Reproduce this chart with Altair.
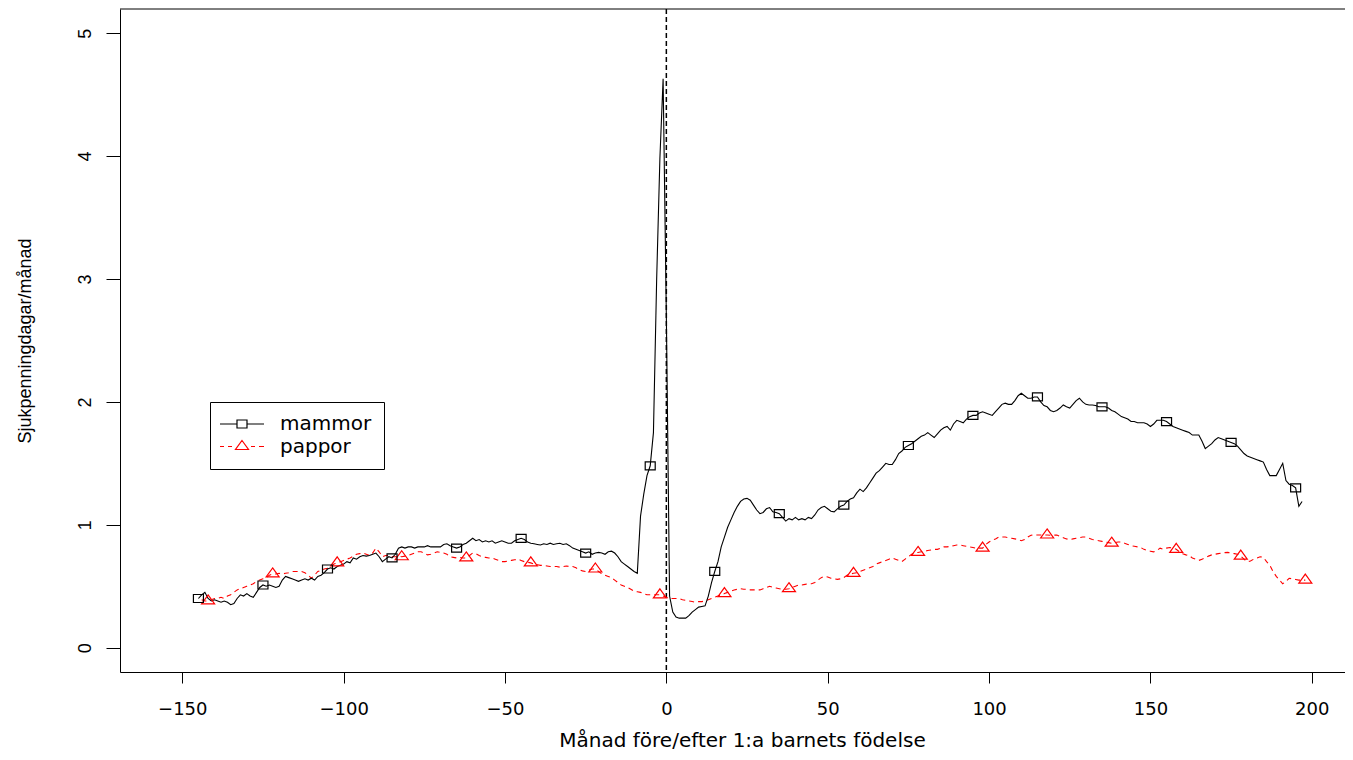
import altair as alt
import pandas as pd

# ---------------- data ----------------
series_labels = ["mammor", "pappor"]
series_colors = ["#000000", "#ff0000"]

months_mammor = list(range(-145, 198))
mammor = [
    0.40, 0.43, 0.45, 0.40, 0.38, 0.39, 0.38, 0.37, 0.38, 0.37,
    0.35, 0.36, 0.40, 0.43, 0.42, 0.44, 0.42, 0.41, 0.45, 0.49,
    0.51, 0.50, 0.51, 0.50, 0.49, 0.50, 0.55, 0.58, 0.57, 0.56,
    0.55, 0.54, 0.55, 0.56, 0.55, 0.565, 0.55, 0.58, 0.59, 0.61,
    0.64, 0.65, 0.64, 0.66, 0.67, 0.68, 0.70, 0.69, 0.73, 0.72,
    0.74, 0.75, 0.745, 0.75, 0.76, 0.77, 0.74, 0.70, 0.72, 0.74,
    0.73, 0.76, 0.81, 0.82, 0.81, 0.82, 0.82, 0.81, 0.82, 0.82,
    0.82, 0.83, 0.82, 0.82, 0.82, 0.82, 0.84, 0.845, 0.83, 0.82,
    0.81, 0.82, 0.84, 0.85, 0.87, 0.89, 0.87, 0.88, 0.86, 0.87,
    0.86, 0.87, 0.85, 0.86, 0.87, 0.86, 0.85, 0.85, 0.87, 0.88,
    0.89, 0.88, 0.86, 0.85, 0.845, 0.84, 0.835, 0.845, 0.84, 0.85,
    0.84, 0.845, 0.85, 0.84, 0.845, 0.83, 0.81, 0.80, 0.79, 0.78,
    0.77, 0.78, 0.76, 0.77, 0.775, 0.77, 0.76, 0.78, 0.785, 0.77,
    0.74, 0.70, 0.68, 0.66, 0.64, 0.62, 0.605, 1.07, 1.25, 1.40,
    1.48, 1.75, 3.00, 3.98, 4.63, 2.70, 0.42, 0.29, 0.25, 0.24,
    0.24, 0.24, 0.26, 0.29, 0.31, 0.33, 0.335, 0.34, 0.42, 0.53,
    0.62, 0.70, 0.82, 0.90, 0.98, 1.04, 1.10, 1.15, 1.19, 1.21,
    1.215, 1.20, 1.16, 1.12, 1.09, 1.10, 1.13, 1.14, 1.105, 1.10,
    1.09, 1.06, 1.03, 1.05, 1.04, 1.06, 1.04, 1.05, 1.04, 1.06,
    1.05, 1.08, 1.12, 1.14, 1.15, 1.13, 1.11, 1.105, 1.13, 1.15,
    1.16, 1.19, 1.21, 1.22, 1.26, 1.29, 1.27, 1.30, 1.34, 1.38,
    1.42, 1.44, 1.47, 1.50, 1.49, 1.49, 1.53, 1.58, 1.60, 1.63,
    1.645, 1.66, 1.68, 1.70, 1.72, 1.73, 1.75, 1.73, 1.71, 1.74,
    1.77, 1.79, 1.80, 1.77, 1.82, 1.85, 1.84, 1.83, 1.86, 1.88,
    1.89, 1.89, 1.91, 1.92, 1.91, 1.90, 1.89, 1.92, 1.95, 1.98,
    1.99, 1.98, 1.98, 2.01, 2.05, 2.07, 2.05, 2.03, 2.03, 2.04,
    2.04, 2.00, 1.97, 1.96, 1.93, 1.92, 1.93, 1.95, 1.975, 1.96,
    1.95, 1.98, 2.01, 2.03, 2.00, 1.98, 1.975, 1.975, 1.97, 1.96,
    1.96, 1.96, 1.95, 1.93, 1.92, 1.90, 1.88, 1.87, 1.86, 1.84,
    1.84, 1.83, 1.83, 1.83, 1.82, 1.80, 1.82, 1.85, 1.85, 1.85,
    1.84, 1.82, 1.80, 1.79, 1.78, 1.77, 1.76, 1.75, 1.73, 1.73,
    1.73, 1.68, 1.62, 1.64, 1.66, 1.69, 1.71, 1.70, 1.69, 1.68,
    1.67, 1.66, 1.64, 1.61, 1.58, 1.56, 1.55, 1.54, 1.53, 1.52,
    1.51, 1.45, 1.40, 1.40, 1.40, 1.45, 1.50, 1.36, 1.33, 1.32,
    1.30, 1.15, 1.19,
]

months_pappor = list(range(-144, 199))
pappor = [
    0.39, 0.38, 0.38, 0.39, 0.40, 0.40, 0.41, 0.40, 0.42, 0.43,
    0.45, 0.47, 0.48, 0.49, 0.50, 0.51, 0.52, 0.54, 0.55, 0.56,
    0.57, 0.59, 0.60, 0.60, 0.605, 0.60, 0.605, 0.61, 0.62, 0.62,
    0.62, 0.62, 0.61, 0.59, 0.565, 0.59, 0.62, 0.63, 0.64, 0.646,
    0.66, 0.68, 0.69, 0.70, 0.71, 0.72, 0.73, 0.745, 0.76, 0.765,
    0.77, 0.76, 0.75, 0.77, 0.81, 0.78, 0.74, 0.75, 0.75, 0.74,
    0.74, 0.745, 0.74, 0.745, 0.75, 0.76, 0.77, 0.78, 0.78, 0.77,
    0.755, 0.76, 0.77, 0.78, 0.775, 0.77, 0.76, 0.74, 0.735, 0.73,
    0.735, 0.73, 0.73, 0.75, 0.77, 0.765, 0.75, 0.74, 0.735, 0.73,
    0.73, 0.72, 0.71, 0.70, 0.70, 0.705, 0.71, 0.715, 0.72, 0.71,
    0.70, 0.695, 0.69, 0.68, 0.675, 0.67, 0.67, 0.665, 0.66, 0.66,
    0.66, 0.655, 0.66, 0.665, 0.66, 0.66, 0.65, 0.635, 0.625, 0.62,
    0.63, 0.64, 0.64, 0.62, 0.60, 0.59, 0.58, 0.57, 0.55, 0.53,
    0.51, 0.50, 0.49, 0.475, 0.46, 0.455, 0.45, 0.44, 0.43, 0.43,
    0.43, 0.43, 0.43, 0.42, 0.41, 0.40, 0.40, 0.40, 0.40, 0.39,
    0.385, 0.38, 0.375, 0.37, 0.375, 0.375, 0.38, 0.39, 0.40, 0.41,
    0.42, 0.43, 0.44, 0.45, 0.46, 0.47, 0.475, 0.48, 0.475, 0.475,
    0.47, 0.47, 0.47, 0.47, 0.48, 0.49, 0.50, 0.49, 0.485, 0.48,
    0.475, 0.475, 0.48, 0.49, 0.50, 0.51, 0.51, 0.515, 0.52, 0.52,
    0.53, 0.55, 0.57, 0.58, 0.575, 0.565, 0.56, 0.556, 0.56, 0.57,
    0.59, 0.60, 0.605, 0.61, 0.62, 0.63, 0.64, 0.65, 0.66, 0.68,
    0.69, 0.70, 0.71, 0.72, 0.73, 0.72, 0.71, 0.70, 0.72, 0.74,
    0.76, 0.77, 0.775, 0.78, 0.785, 0.79, 0.795, 0.80, 0.80, 0.81,
    0.82, 0.82, 0.825, 0.83, 0.835, 0.835, 0.83, 0.825, 0.82, 0.815,
    0.81, 0.81, 0.81, 0.84, 0.86, 0.876, 0.885, 0.90, 0.90, 0.90,
    0.895, 0.89, 0.885, 0.88, 0.87, 0.88, 0.90, 0.915, 0.917, 0.917,
    0.917, 0.917, 0.917, 0.915, 0.915, 0.917, 0.905, 0.895, 0.885, 0.88,
    0.885, 0.89, 0.895, 0.90, 0.90, 0.89, 0.88, 0.875, 0.87, 0.865,
    0.86, 0.855, 0.85, 0.855, 0.86, 0.86, 0.85, 0.84, 0.83, 0.825,
    0.82, 0.815, 0.80, 0.79, 0.785, 0.78, 0.79, 0.81, 0.80, 0.81,
    0.815, 0.81, 0.80, 0.78, 0.765, 0.755, 0.75, 0.73, 0.72, 0.71,
    0.72, 0.73, 0.745, 0.755, 0.76, 0.765, 0.77, 0.773, 0.775, 0.77,
    0.765, 0.76, 0.745, 0.72, 0.70, 0.705, 0.72, 0.73, 0.74, 0.735,
    0.70, 0.67, 0.62, 0.58, 0.55, 0.52, 0.54, 0.565, 0.56, 0.555,
    0.55, 0.55, 0.55,
]

marker_months_mammor = list(range(-145, 198, 20))
marker_months_pappor = list(range(-142, 199, 20))
vline_month = [0]

x_ticks = [-150, -100, -50, 0, 50, 100, 150, 200]
y_ticks = [0, 1, 2, 3, 4, 5]
x_domain = [-169.3, 210.3]
y_domain = [-0.198, 5.197]

assert len(mammor) == len(months_mammor)
assert len(pappor) == len(months_pappor)

df_m = pd.DataFrame({"month": months_mammor, "value": mammor})
df_m["marker"] = df_m["month"].isin(marker_months_mammor)
df_p = pd.DataFrame({"month": months_pappor, "value": pappor})
df_p["marker"] = df_p["month"].isin(marker_months_pappor)
df_v = pd.DataFrame({"month": vline_month})
df_leg = pd.DataFrame({"series": series_labels})

# ---------------- geometry / style ----------------
W, H = 1225, 663
SQUARE = "M-1,-0.8H1V0.8H-1Z"
TRIANGLE = "M0,-1.2L1.3,0.6L-1.3,0.6Z"
LEG_M = "M-2.4,0H1M3,0H6.4M1,-0.8H3V0.8H1Z"
LEG_P = "M-2.4,0H-1.6M-0.8,0H0M2,-1.2L3.3,0.6L0.7,0.6ZM3.8,0H4.6M5.4,0H6.4"

x_enc = alt.X(
    "month:Q",
    scale=alt.Scale(domain=x_domain, nice=False, zero=False),
    axis=alt.Axis(
        values=x_ticks, tickSize=11, labelPadding=17,
        labelFont="DejaVu Sans", labelFontSize=18,
        labelFlush=False, labelOverlap=False,
        titleFont="DejaVu Sans", titleFontSize=20, titleFontWeight="normal",
        titleX=622, titleY=74, titleAlign="center", titleBaseline="alphabetic",
    ),
    title="Månad före/efter 1:a barnets födelse",
)
y_enc = alt.Y(
    "value:Q",
    scale=alt.Scale(domain=y_domain, nice=False, zero=False),
    axis=alt.Axis(
        values=y_ticks, tickSize=14, labelPadding=16,
        labelAngle=270, labelAlign="center", labelBaseline="alphabetic",
        labelFont="Liberation Sans", labelFontSize=18,
        labelFlush=False, labelOverlap=False,
        titleFont="Liberation Sans", titleFontSize=18, titleFontWeight="normal",
        titleAngle=270, titleX=-90, titleY=331.5,
        titleAlign="center", titleBaseline="alphabetic",
    ),
    title="Sjukpenningdagar/månad",
)

vline = alt.Chart(df_v).mark_rule(color="black", strokeWidth=1.5, strokeDash=[5, 3]).encode(
    x=alt.X("month:Q")
)

line_m = alt.Chart(df_m).mark_line(color=series_colors[0], strokeWidth=1.1).encode(x=x_enc, y=y_enc)
line_p = alt.Chart(df_p).mark_line(
    color=series_colors[1], strokeWidth=1.1, strokeDash=[5, 4]
).encode(x=x_enc, y=y_enc)

pts_m = alt.Chart(df_m).transform_filter("datum.marker").mark_point(
    shape=SQUARE, size=100, filled=False, color=series_colors[0], strokeWidth=1.2, opacity=1
).encode(x=x_enc, y=y_enc)
pts_p = alt.Chart(df_p).transform_filter("datum.marker").mark_point(
    shape=TRIANGLE, size=100, filled=False, color=series_colors[1], strokeWidth=1.2, opacity=1
).encode(x=x_enc, y=y_enc)

top_border = alt.Chart(df_v).mark_rule(color="black", strokeWidth=1).encode(
    x=alt.value(0), x2=alt.value(W), y=alt.value(0)
)

leg_def = alt.Legend(
    orient="none", legendX=90, legendY=393, title=None,
    strokeColor="black", fillColor="white", padding=12,
    labelFont="DejaVu Sans", labelFontSize=20, labelColor="black",
    labelOffset=38, symbolSize=100, symbolStrokeWidth=1.2, rowPadding=2.5,
)
legend_layer = alt.Chart(df_leg).transform_filter("false").mark_point(
    filled=False, size=100, strokeWidth=1.2, opacity=1
).encode(
    color=alt.Color("series:N", scale=alt.Scale(domain=series_labels, range=series_colors), legend=leg_def),
    shape=alt.Shape("series:N", scale=alt.Scale(domain=series_labels, range=[LEG_M, LEG_P]), legend=leg_def),
)

chart = alt.layer(
    vline, line_p, line_m, pts_p, pts_m, top_border, legend_layer
).properties(
    width=W, height=H,
    padding={"left": 112, "top": 1, "right": 0, "bottom": 80},
    autosize=alt.AutoSizeParams(type="none"),
    background="white",
).configure_view(
    stroke="transparent"
).configure_axis(
    grid=False, domainColor="black", tickColor="black", labelColor="black",
    titleColor="black", domainWidth=1, tickWidth=1,
)

chart.save("out.html", embed_options={"renderer": "svg", "actions": False})
